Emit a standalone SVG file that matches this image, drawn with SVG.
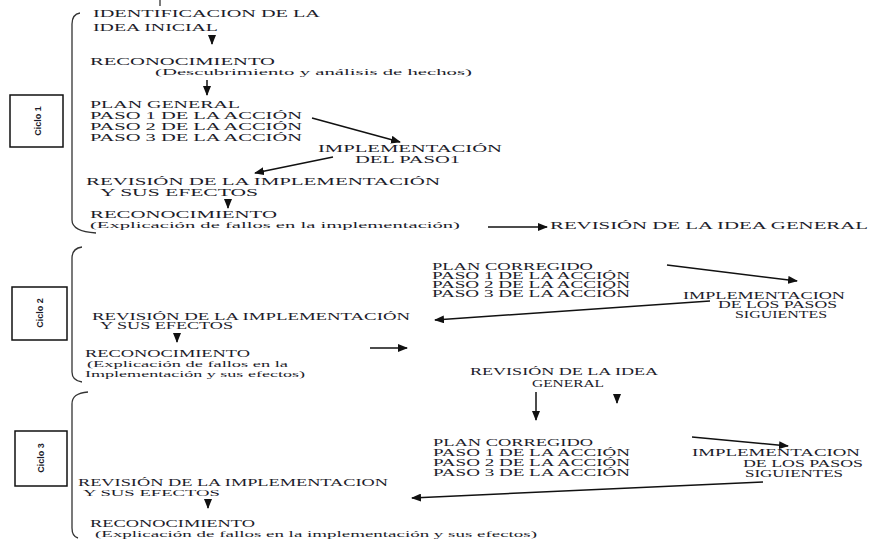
<svg xmlns="http://www.w3.org/2000/svg" width="870" height="540" viewBox="0 0 870 540">
<style>
.t{font-family:"Liberation Serif","Times New Roman",serif;font-size:10.5px;fill:#1c1c2a;}
.k{font-family:"Liberation Serif","Times New Roman",serif;font-size:9.5px;fill:#1c1c2a;}
.s{font-family:"Liberation Serif","Times New Roman",serif;font-size:9px;fill:#1c1c2a;}
.c{font-family:"Liberation Sans",Arial,sans-serif;font-size:9px;font-weight:bold;fill:#1c1c2a;}
.ln{stroke:#111;stroke-width:1.5;fill:none;}
.br{stroke:#333;stroke-width:1.3;fill:none;}
.bx{stroke:#111;stroke-width:1.5;fill:#fff;}
</style>
<defs>
<marker id="ah" markerUnits="userSpaceOnUse" markerWidth="10" markerHeight="8" refX="9" refY="4" orient="auto">
<path d="M0,0 L10,4 L0,8 z" fill="#111"/>
</marker>
</defs>
<rect width="870" height="540" fill="#fff"/>
<line x1="160" y1="0" x2="160" y2="6" class="br"/>

<g id="brace1"><path class="br" d="M80,13 C74,14 72,18 72,24 L72,220 C72,228 80,232 96,233"/></g>
<g id="brace2"><path class="br" d="M82,247 C75,248 72,252 72,258 L72,372 C72,378 75,381 82,382"/></g>
<g id="brace3"><path class="br" d="M88,392 C76,393 72,397 72,404 L72,528 C72,534 74,537 78,538"/></g>

<g id="ciclo1"><rect class="bx" x="10" y="95" width="53" height="52"/><text class="c" transform="translate(41,121) rotate(-90)" text-anchor="middle">Ciclo 1</text></g>
<g id="ciclo2"><rect class="bx" x="12" y="287" width="55" height="53"/><text class="c" transform="translate(43,313) rotate(-90)" text-anchor="middle">Ciclo 2</text></g>
<g id="ciclo3"><rect class="bx" x="15" y="431" width="52" height="55"/><text class="c" transform="translate(44,458) rotate(-90)" text-anchor="middle">Ciclo 3</text></g>

<g id="c1-identificacion">
<text class="t" x="93" y="17" textLength="227" lengthAdjust="spacingAndGlyphs">IDENTIFICACION DE LA</text>
<text class="t" x="93" y="31" textLength="125" lengthAdjust="spacingAndGlyphs">IDEA INICIAL</text>
</g>
<g id="c1-reconocimiento">
<text class="t" x="90" y="65" textLength="185" lengthAdjust="spacingAndGlyphs">RECONOCIMIENTO</text>
<text class="s" x="155" y="75" textLength="317" lengthAdjust="spacingAndGlyphs">(Descubrimiento y análisis de hechos)</text>
</g>
<g id="c1-plan">
<text class="k" x="90" y="108" textLength="150" lengthAdjust="spacingAndGlyphs">PLAN GENERAL</text>
<text class="k" x="90" y="119" textLength="212" lengthAdjust="spacingAndGlyphs">PASO 1 DE LA ACCIÓN</text>
<text class="k" x="90" y="130" textLength="212" lengthAdjust="spacingAndGlyphs">PASO 2 DE LA ACCIÓN</text>
<text class="k" x="90" y="141" textLength="212" lengthAdjust="spacingAndGlyphs">PASO 3 DE LA ACCIÓN</text>
</g>
<g id="c1-implementacion">
<text class="k" x="318" y="152" textLength="184" lengthAdjust="spacingAndGlyphs">IMPLEMENTACIÓN</text>
<text class="k" x="355" y="163" textLength="105" lengthAdjust="spacingAndGlyphs">DEL PASO1</text>
</g>
<g id="c1-revision">
<text class="k" x="86" y="185" textLength="354" lengthAdjust="spacingAndGlyphs">REVISIÓN DE LA IMPLEMENTACIÓN</text>
<text class="k" x="100" y="196" textLength="158" lengthAdjust="spacingAndGlyphs">Y SUS EFECTOS</text>
</g>
<g id="c1-reconocimiento2">
<text class="t" x="90" y="218" textLength="187" lengthAdjust="spacingAndGlyphs">RECONOCIMIENTO</text>
<text class="s" x="90" y="228" textLength="370" lengthAdjust="spacingAndGlyphs">(Explicación de fallos en la implementación)</text>
</g>
<g id="c1-revision-idea">
<text class="t" x="550" y="229" textLength="318" lengthAdjust="spacingAndGlyphs">REVISIÓN DE LA IDEA GENERAL</text>
</g>

<g id="c2-plan">
<text class="k" x="432" y="270" textLength="161" lengthAdjust="spacingAndGlyphs">PLAN CORREGIDO</text>
<text class="k" x="432" y="279" textLength="198" lengthAdjust="spacingAndGlyphs">PASO 1 DE LA ACCIÓN</text>
<text class="k" x="432" y="288" textLength="198" lengthAdjust="spacingAndGlyphs">PASO 2 DE LA ACCIÓN</text>
<text class="k" x="432" y="297" textLength="198" lengthAdjust="spacingAndGlyphs">PASO 3 DE LA ACCIÓN</text>
</g>
<g id="c2-implementacion">
<text class="k" x="683" y="299" textLength="162" lengthAdjust="spacingAndGlyphs">IMPLEMENTACION</text>
<text class="k" x="718" y="308" textLength="119" lengthAdjust="spacingAndGlyphs">DE LOS PASOS</text>
<text class="k" x="735" y="318" textLength="92" lengthAdjust="spacingAndGlyphs">SIGUIENTES</text>
</g>
<g id="c2-revision">
<text class="k" x="92" y="320" textLength="318" lengthAdjust="spacingAndGlyphs">REVISIÓN DE LA IMPLEMENTACIÓN</text>
<text class="k" x="100" y="329" textLength="133" lengthAdjust="spacingAndGlyphs">Y SUS EFECTOS</text>
</g>
<g id="c2-reconocimiento">
<text class="k" x="85" y="357" textLength="165" lengthAdjust="spacingAndGlyphs">RECONOCIMIENTO</text>
<text class="s" x="87" y="367" textLength="201" lengthAdjust="spacingAndGlyphs">(Explicación de fallos en la</text>
<text class="s" x="85" y="377" textLength="220" lengthAdjust="spacingAndGlyphs">Implementación y sus efectos)</text>
</g>
<g id="c2-revision-idea">
<text class="t" x="470" y="375" textLength="188" lengthAdjust="spacingAndGlyphs">REVISIÓN DE LA IDEA</text>
<text class="t" x="532" y="387" textLength="72" lengthAdjust="spacingAndGlyphs">GENERAL</text>
</g>

<g id="c3-plan">
<text class="k" x="433" y="446" textLength="160" lengthAdjust="spacingAndGlyphs">PLAN CORREGIDO</text>
<text class="k" x="433" y="456" textLength="197" lengthAdjust="spacingAndGlyphs">PASO 1 DE LA ACCIÓN</text>
<text class="k" x="433" y="466" textLength="197" lengthAdjust="spacingAndGlyphs">PASO 2 DE LA ACCIÓN</text>
<text class="k" x="433" y="476" textLength="197" lengthAdjust="spacingAndGlyphs">PASO 3 DE LA ACCIÓN</text>
</g>
<g id="c3-implementacion">
<text class="k" x="692" y="456" textLength="168" lengthAdjust="spacingAndGlyphs">IMPLEMENTACION</text>
<text class="k" x="743" y="467" textLength="120" lengthAdjust="spacingAndGlyphs">DE LOS PASOS</text>
<text class="k" x="745" y="477" textLength="98" lengthAdjust="spacingAndGlyphs">SIGUIENTES</text>
</g>
<g id="c3-revision">
<text class="k" x="78" y="486" textLength="310" lengthAdjust="spacingAndGlyphs">REVISIÓN DE LA IMPLEMENTACION</text>
<text class="s" x="83" y="496" textLength="137" lengthAdjust="spacingAndGlyphs">Y SUS EFECTOS</text>
</g>
<g id="c3-reconocimiento">
<text class="k" x="90" y="527" textLength="165" lengthAdjust="spacingAndGlyphs">RECONOCIMIENTO</text>
<text class="s" x="95" y="537" textLength="442" lengthAdjust="spacingAndGlyphs">(Explicación de fallos en la implementación y sus efectos)</text>
</g>

<g id="connectors">
<line class="ln" x1="212" y1="37" x2="212" y2="44" marker-end="url(#ah)"/>
<line class="ln" x1="207" y1="80" x2="207" y2="95" marker-end="url(#ah)"/>
<line class="ln" x1="312" y1="118" x2="400" y2="142" marker-end="url(#ah)"/>
<line class="ln" x1="333" y1="157" x2="255" y2="173" marker-end="url(#ah)"/>
<line class="ln" x1="228" y1="201" x2="228" y2="208" marker-end="url(#ah)"/>
<line class="ln" x1="488" y1="227" x2="547" y2="227" marker-end="url(#ah)"/>
<line class="ln" x1="667" y1="265" x2="797" y2="281" marker-end="url(#ah)"/>
<line class="ln" x1="710" y1="301" x2="435" y2="320" marker-end="url(#ah)"/>
<line class="ln" x1="177" y1="335" x2="177" y2="342" marker-end="url(#ah)"/>
<line class="ln" x1="370" y1="348" x2="407" y2="348" marker-end="url(#ah)"/>
<line class="ln" x1="536" y1="392" x2="536" y2="420" marker-end="url(#ah)"/>
<line class="ln" x1="617" y1="396" x2="617" y2="403" marker-end="url(#ah)"/>
<line class="ln" x1="692" y1="437" x2="788" y2="446" marker-end="url(#ah)"/>
<line class="ln" x1="763" y1="482" x2="412" y2="498" marker-end="url(#ah)"/>
<line class="ln" x1="208" y1="500" x2="208" y2="508" marker-end="url(#ah)"/>
</g>
</svg>
